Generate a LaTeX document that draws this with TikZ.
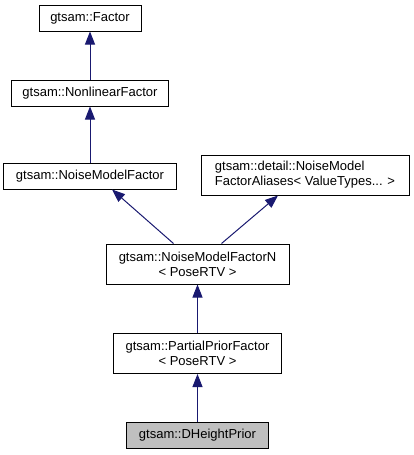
\documentclass[tikz,border=0pt]{standalone}
\usepackage{fontspec}
\setmainfont{Liberation Sans}
\usetikzlibrary{arrows.meta}
\definecolor{edgeblue}{HTML}{191970}
\definecolor{graybox}{HTML}{BFBFBF}
\tikzset{
  cls/.style={draw=black, line width=1pt, fill=white, inner sep=0pt, align=center,
    font=\fontsize{13}{15}\selectfont},
  clsleft/.style={cls, align=left},
  arr/.style={draw=edgeblue, line width=1pt, -{Triangle[length=13pt,width=10pt]}},
}
\begin{document}
\begin{tikzpicture}[x=1pt,y=-1pt]
\useasboundingbox (0,0) rectangle (413,455);
\node[cls, minimum width=102pt, minimum height=26pt] (factor) at (90,18) {gtsam::Factor};
\node[cls, minimum width=157pt, minimum height=26pt] (nlf) at (90,93) {gtsam::NonlinearFactor};
\node[cls, minimum width=173pt, minimum height=26pt] (nmf) at (90,176) {gtsam::NoiseModelFactor};
\node[clsleft, minimum width=208pt, minimum height=40pt] (alias) at (305,175) {gtsam::detail::NoiseModel\\FactorAliases< ValueTypes... >};
\node[cls, minimum width=183pt, minimum height=40pt] (nmfn) at (197.5,264) {gtsam::NoiseModelFactorN\\< PoseRTV >};
\node[cls, minimum width=168pt, minimum height=40pt] (ppf) at (197.5,353.5) {gtsam::PartialPriorFactor\\< PoseRTV >};
\node[cls, fill=graybox, minimum width=142pt, minimum height=26pt] (dhp) at (197.5,435.5) {gtsam::DHeightPrior};
\draw[arr] (nlf.north) -- (factor.south);
\draw[arr] (nmf.north) -- (nlf.south);
\draw[arr] ([xshift=-24pt]nmfn.north) -- ([xshift=22pt]nmf.south);
\draw[arr] ([xshift=24pt]nmfn.north) -- ([xshift=-27pt]alias.south);
\draw[arr] (ppf.north) -- (nmfn.south);
\draw[arr] (dhp.north) -- (ppf.south);
\end{tikzpicture}
\end{document}
